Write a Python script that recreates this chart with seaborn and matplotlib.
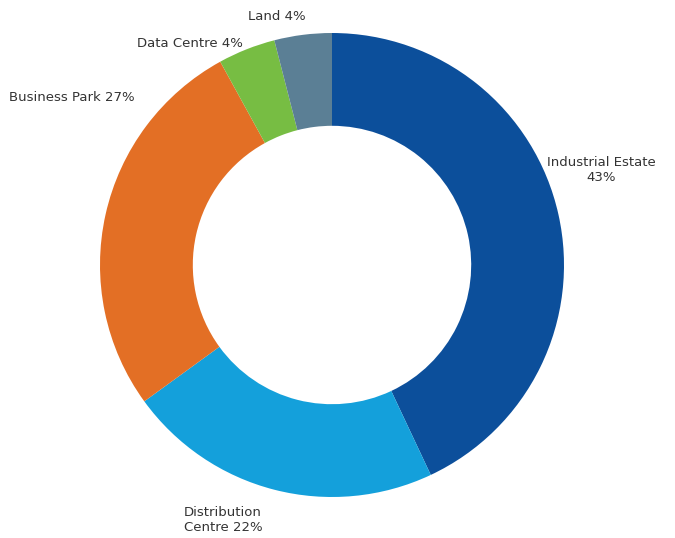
import matplotlib
matplotlib.use("Agg")
import matplotlib.pyplot as plt
import seaborn as sns

categories = ["Industrial Estate", "Distribution Centre", "Business Park", "Data Centre", "Land"]
values = [43, 22, 27, 4, 4]
label_texts = ["Industrial Estate\n43%", "Distribution\nCentre 22%", "Business Park 27%",
               "Data Centre 4%", "Land 4%"]
colors = ["#0C4F9B", "#14A0DB", "#E36F25", "#77BD43", "#5B7F95"]
label_pos = [(1.159, 0.409), (-0.470, -1.099), (-1.121, 0.720), (-0.612, 0.953), (-0.237, 1.069)]

sns.set_theme(style="white")
plt.rcParams['font.family'] = ['DejaVu Sans']

fig = plt.figure(figsize=(6.75, 5.38), dpi=100)
ax = fig.add_axes([0, 0, 1, 1])
ax.pie(values, colors=colors, startangle=90, counterclock=False, radius=1.0,
       wedgeprops=dict(width=0.4, linewidth=0))
for txt, (x, y) in zip(label_texts, label_pos):
    ax.text(x, y, txt, ha="center", va="center", fontsize=9.5, color="#333333",
            linespacing=1.25)
ax.set_xlim(-332/232, (675-332)/232)
ax.set_ylim(-273/232, 265/232)
ax.set_aspect("auto")
ax.axis("off")
fig.savefig("out.png", dpi=100)
